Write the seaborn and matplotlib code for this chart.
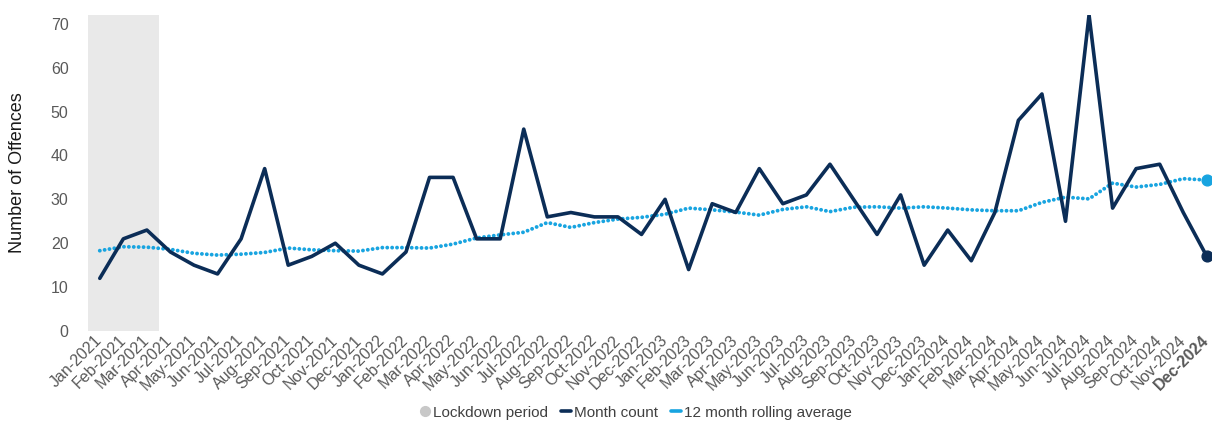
import pandas as pd
import numpy as np
import matplotlib
matplotlib.use('Agg')
import matplotlib.pyplot as plt
from matplotlib.lines import Line2D
import seaborn as sns

# Data
months = ['Jan', 'Feb', 'Mar', 'Apr', 'May', 'Jun',
          'Jul', 'Aug', 'Sep', 'Oct', 'Nov', 'Dec']
years = [2021, 2022, 2023, 2024]
month_labels = [f'{m}-{y}' for y in years for m in months]

month_count = [12, 21, 23, 18, 15, 13, 21, 37, 15, 17, 20, 15,
               13, 18, 35, 35, 21, 21, 46, 26, 27, 26, 26, 22,
               30, 14, 29, 27, 37, 29, 31, 38, 30, 22, 31, 15,
               23, 16, 27, 48, 54, 25, 72, 28, 37, 38, 27, 17]

rolling_avg = [18.3, 19.2, 19.1, 18.6, 17.7, 17.3, 17.5, 17.9, 18.9, 18.5, 18.3, 18.2,
               19.0, 19.0, 18.9, 19.8, 21.2, 21.9, 22.5, 24.7, 23.6, 24.7, 25.5, 25.9,
               26.6, 28.0, 27.6, 27.1, 26.4, 27.7, 28.3, 27.2, 28.2, 28.3, 28.0, 28.3,
               28.0, 27.6, 27.4, 27.4, 29.3, 30.5, 30.1, 33.7, 32.8, 33.4, 34.7, 34.4]

lockdown_months = ['Jan-2021', 'Feb-2021', 'Mar-2021']

df = pd.DataFrame({
    'Month': month_labels,
    'pos': np.arange(len(month_labels)),
    'Month count': month_count,
    '12 month rolling average': rolling_avg,
})

#%%
navy = '#0b2d57'
light_blue = '#18a4e0'
grey_band = '#e9e9e9'

sns.set_style('white')
plt.rcParams['font.family'] = ['Liberation Sans', 'DejaVu Sans']

fig = plt.figure(figsize=(12.12, 4.22), dpi=100)
ax = fig.add_axes([88 / 1212, 1 - 331 / 422, 1 - 88 / 1212, (331 - 15) / 422])

# lockdown shading over the first months
lock_pos = df.loc[df['Month'].isin(lockdown_months), 'pos']
ax.axvspan(lock_pos.min() - 0.5, lock_pos.max() + 0.5, color=grey_band, lw=0, zorder=0)

sns.lineplot(data=df, x='pos', y='12 month rolling average', ax=ax, color=light_blue,
             lw=2.8, linestyle=(0, (0.01, 1.25)), dash_capstyle='round', zorder=2)
sns.lineplot(data=df, x='pos', y='Month count', ax=ax, color=navy, lw=2.6, zorder=3)

# end markers
last = df.iloc[-1]
ax.scatter([last['pos']], [last['12 month rolling average']], s=60, color=light_blue, zorder=4)
ax.scatter([last['pos']], [last['Month count']], s=60, color=navy, zorder=4)

ax.set_xlim(-0.5, 47.22)
ax.set_ylim(0, 72)
ax.set_yticks(range(0, 71, 10))
ax.set_xticks(df['pos'])
ax.set_xticklabels(df['Month'], rotation=45, ha='right', va='center', rotation_mode='anchor')
ax.get_xticklabels()[-1].set_fontweight('bold')
ax.get_xticklabels()[-1].set_color('#262626')
ax.tick_params(axis='y', length=0, pad=14, labelsize=11.5, labelcolor='#595959')
ax.tick_params(axis='x', length=0, pad=5, labelsize=11.5, labelcolor='#595959')

ax.set_xlabel('')
ax.set_ylabel('Number of Offences', fontsize=13, color='#1a1a1a')
ax.yaxis.set_label_coords(-0.055, 0.5)
sns.despine(ax=ax, left=True, bottom=True)

handles = [
    Line2D([], [], marker='o', ls='', color='#c8c8c8', markersize=7),
    Line2D([], [], color=navy, lw=2.6),
    Line2D([], [], color=light_blue, lw=2.6),
]
fig.legend(handles, ['Lockdown period', 'Month count', '12 month rolling average'],
           loc='center', bbox_to_anchor=(636 / 1212, 0.022), ncol=3, frameon=False,
           fontsize=11, handlelength=0.7, handletextpad=0.2, columnspacing=0.8,
           labelcolor='#404040')

fig.savefig('out.png', dpi=100)
